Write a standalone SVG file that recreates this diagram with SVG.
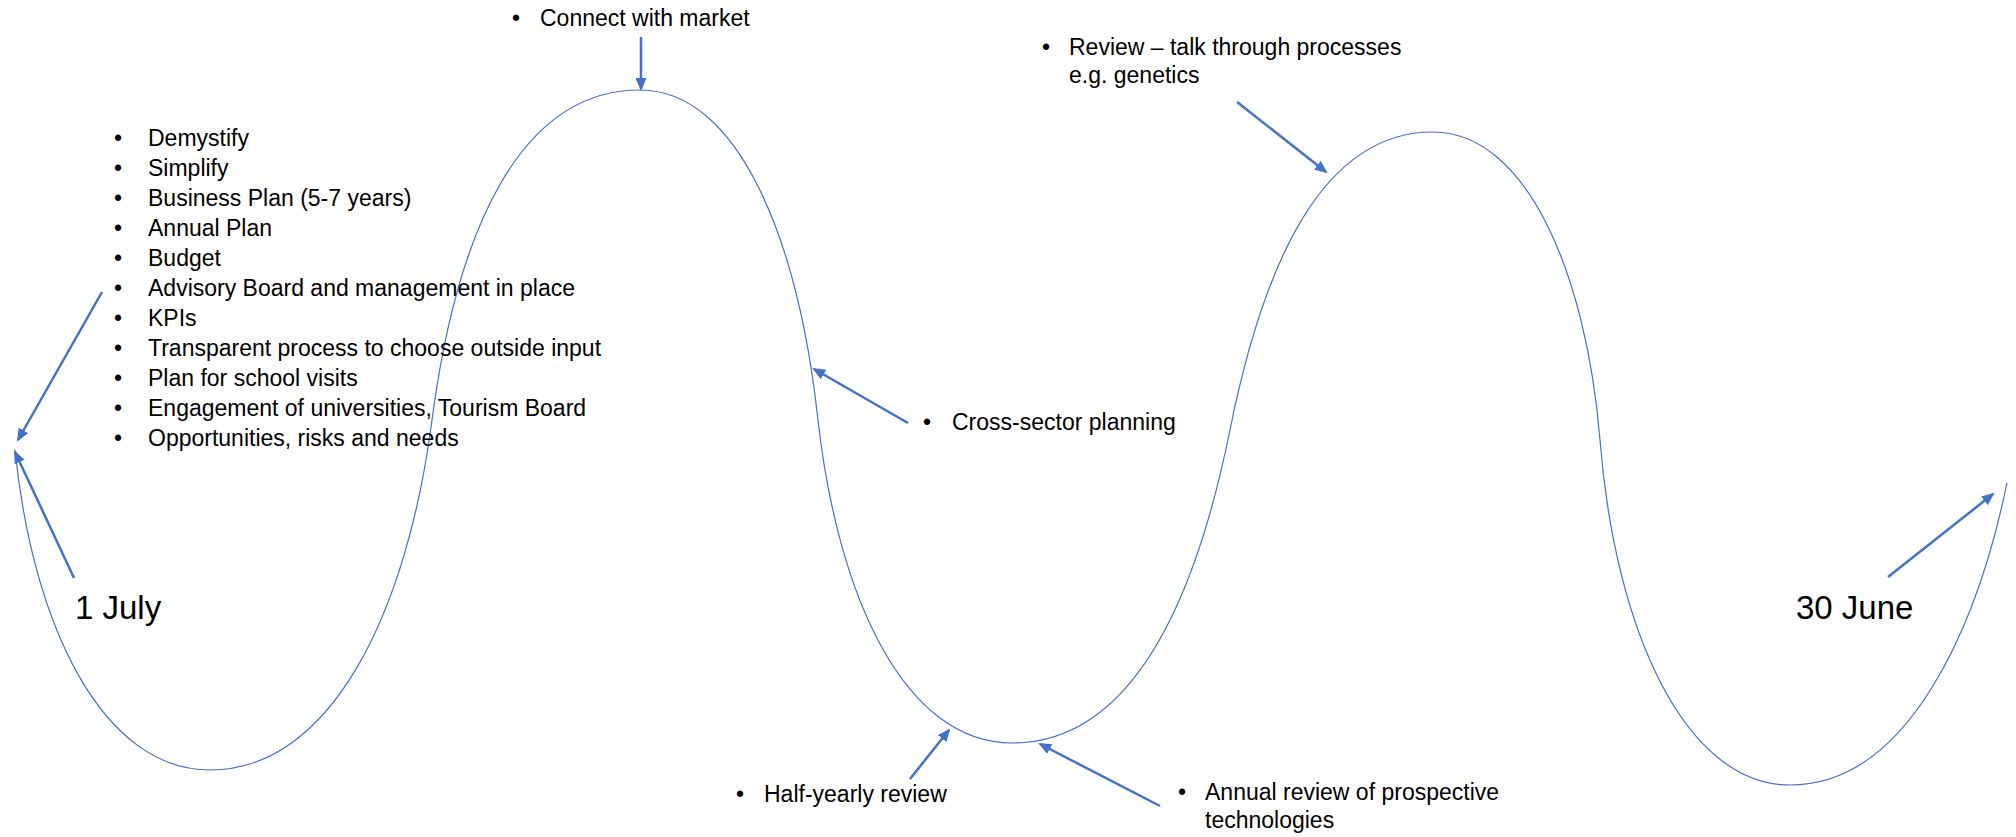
<svg xmlns="http://www.w3.org/2000/svg" width="2016" height="837" viewBox="0 0 2016 837">
<style>
text { font-family: "Liberation Sans", Arial, sans-serif; font-size: 23px; fill: #000; }
.big { font-size: 33px; }
.curve { fill: none; stroke: #4472C4; stroke-width: 1.2; }
.arr { fill: none; stroke: #4472C4; stroke-width: 2.5; marker-end: url(#ah); }
</style>
<defs>
<marker id="ah" markerUnits="userSpaceOnUse" markerWidth="13" markerHeight="11" refX="11" refY="5.5" orient="auto" viewBox="0 0 13 11">
<path d="M0,0 L13,5.5 L0,11 z" fill="#4472C4"/>
</marker>
</defs>
<rect width="2016" height="837" fill="#fff"/>
<g id="cycle-curve">
<path class="curve" d="M15,450 C33,627 103,770 210,770 C331,770 407,613 432,420 C457,230 520,90 640,90 C738,90 798,238 818,420 C838,598 905,743 1012,743 C1132,743 1195,603 1230,430 C1263,266 1321,132 1433,132 C1525,132 1586,270 1600,440 C1615,630 1685,785 1790,785 C1910,785 1978,623 2007,483"/>
</g>
<g id="connectors">
<line class="arr" x1="641" y1="37" x2="641" y2="89"/>
<line class="arr" x1="102" y1="292" x2="18" y2="440"/>
<line class="arr" x1="74" y1="578" x2="15" y2="452"/>
<line class="arr" x1="908" y1="423" x2="814" y2="369"/>
<line class="arr" x1="910" y1="779" x2="949" y2="730"/>
<line class="arr" x1="1160" y1="806" x2="1040" y2="744"/>
<line class="arr" x1="1237" y1="102" x2="1326" y2="172"/>
<line class="arr" x1="1888" y1="577" x2="1993" y2="494"/>
</g>
<g id="start-list">
<text x="114" y="146">•</text><text x="148" y="146">Demystify</text>
<text x="114" y="176">•</text><text x="148" y="176">Simplify</text>
<text x="114" y="206">•</text><text x="148" y="206">Business Plan (5-7 years)</text>
<text x="114" y="236">•</text><text x="148" y="236">Annual Plan</text>
<text x="114" y="266">•</text><text x="148" y="266">Budget</text>
<text x="114" y="296">•</text><text x="148" y="296">Advisory Board and management in place</text>
<text x="114" y="326">•</text><text x="148" y="326">KPIs</text>
<text x="114" y="356">•</text><text x="148" y="356">Transparent process to choose outside input</text>
<text x="114" y="386">•</text><text x="148" y="386">Plan for school visits</text>
<text x="114" y="416">•</text><text x="148" y="416">Engagement of universities, Tourism Board</text>
<text x="114" y="446">•</text><text x="148" y="446">Opportunities, risks and needs</text>
</g>
<g id="label-1-july"><text class="big" x="75" y="619">1 July</text></g>
<g id="label-30-june"><text class="big" x="1796" y="619">30 June</text></g>
<g id="label-connect"><text x="512" y="26">•</text><text x="540" y="26">Connect with market</text></g>
<g id="label-review"><text x="1042" y="55">•</text><text x="1069" y="55">Review – talk through processes</text><text x="1069" y="83">e.g. genetics</text></g>
<g id="label-cross-sector"><text x="923" y="430">•</text><text x="952" y="430">Cross-sector planning</text></g>
<g id="label-half-yearly"><text x="736" y="802">•</text><text x="764" y="802">Half-yearly review</text></g>
<g id="label-annual"><text x="1178" y="800">•</text><text x="1205" y="800">Annual review of prospective</text><text x="1205" y="828">technologies</text></g>
</svg>
